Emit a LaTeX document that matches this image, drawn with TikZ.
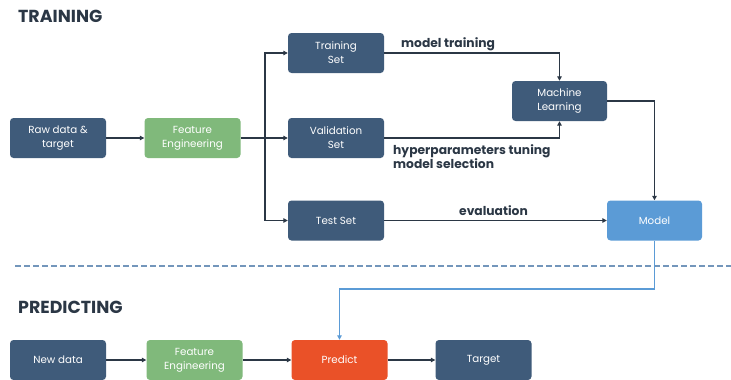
\documentclass[tikz,border=0pt]{standalone}
\usepackage{fontspec}
\setmainfont{Poppins}
\usetikzlibrary{arrows.meta}
\definecolor{dblue}{HTML}{3F5B7A}
\definecolor{fgreen}{HTML}{80B97B}
\definecolor{lblue}{HTML}{5B9BD6}
\definecolor{orng}{HTML}{EA5128}
\definecolor{ink}{HTML}{2B3745}
\definecolor{sepcol}{HTML}{7396BB}
\begin{document}
\begin{tikzpicture}[x=1pt,y=-1pt,
  box/.style={rounded corners=3.5pt, minimum width=96pt, minimum height=40pt, inner sep=1pt,
    text=white, align=center, font=\fontsize{10.3}{14}\selectfont},
  darkbox/.style={box, fill=dblue},
  greenbox/.style={box, fill=fgreen},
  conn/.style={draw=ink, line width=1.4pt, -{Triangle[length=4.5pt,width=4.5pt]}},
  bconn/.style={draw=lblue, line width=1.1pt, -{Triangle[length=4.5pt,width=4.5pt]}},
  lbl/.style={text=ink, font=\fontsize{12.3}{14.5}\selectfont\bfseries, inner sep=0pt, align=left},
  title/.style={text=ink, font=\fontsize{17.4}{20}\selectfont\bfseries, inner sep=0pt, anchor=base west}]
\useasboundingbox (0,0) rectangle (731,380);
% titles
\node[title] (t1) at (18,23) {TRAINING};
\node[title] (t2) at (18,313) {PREDICTING};
% training nodes
\node[darkbox] (raw) at (58,138) {Raw data \&\\target};
\node[greenbox] (fe) at (192.5,138) {Feature\\Engineering};
\node[darkbox] (train) at (336,53) {Training\\Set};
\node[darkbox] (val) at (336,138) {Validation\\Set};
\node[darkbox] (test) at (336,220.5) {Test Set};
\node[darkbox, minimum width=95pt] (ml) at (559.5,101) {Machine\\Learning};
\node[box, fill=lblue, minimum width=95pt] (model) at (654.5,220.5) {Model};
% predicting nodes
\node[darkbox] (new) at (58,360) {New data};
\node[greenbox] (fe2) at (194.5,360) {Feature\\Engineering};
\node[box, fill=orng] (pred) at (339.5,360) {Predict};
\node[darkbox] (tgt) at (483.5,360) {Target};
% separator
\coordinate (d1) at (15,266);
\coordinate (d2) at (731,266);
\draw[sepcol, line width=1.6pt, dash pattern=on 6pt off 3pt] (d1) -- (d2);
% training connectors
\coordinate (split) at (265,138);
\draw[conn] (raw) -- (fe);
\draw[conn] (fe) -- (val);
\draw[conn] (split) |- (train.west);
\draw[conn] (split) |- (test.west);
\draw[conn] (train.east) -| (ml.north);
\draw[conn] (val.east) -| (ml.south);
\draw[conn] (ml.east) -| (model.north);
\draw[conn] (test) -- (model);
% labels
\node[lbl, anchor=base west] (l1) at (401,47) {model training};
\node[lbl, anchor=base west] (l2) at (393,168.5) {hyperparameters tuning\\model selection};
\node[lbl, anchor=base] (l3) at (493.5,215) {evaluation};
% model to predict
\coordinate (bend) at (654.5,289);
\draw[bconn] (model.south) -- (bend) -| (pred.north);
% predicting connectors
\draw[conn] (new) -- (fe2);
\draw[conn] (fe2) -- (pred);
\draw[conn] (pred) -- (tgt);
\end{tikzpicture}
\end{document}
